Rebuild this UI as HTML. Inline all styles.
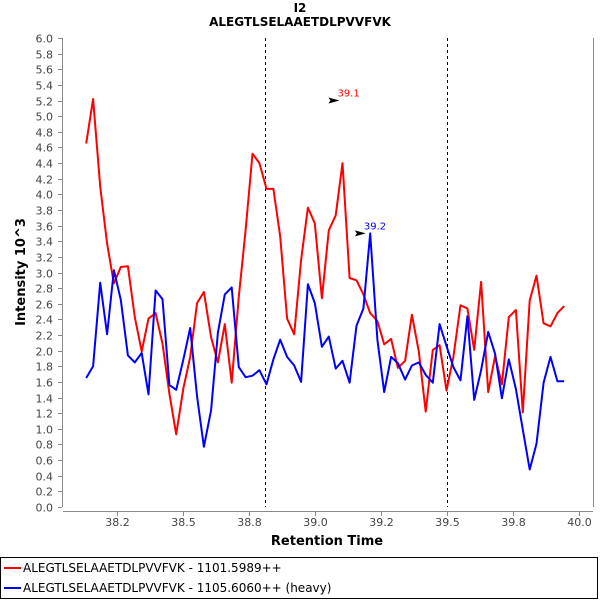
<!DOCTYPE html>
<html><head><meta charset="utf-8"><style>
body{margin:0;background:#fff;width:600px;height:600px;overflow:hidden;font-family:"Liberation Sans","DejaVu Sans",sans-serif}
svg text{font-family:"DejaVu Sans","Liberation Sans",sans-serif}
</style></head><body>
<svg id="chart" width="600" height="600" xmlns="http://www.w3.org/2000/svg">
<rect x="0" y="0" width="600" height="600" fill="#fff"/>
<text x="300" y="12" text-anchor="middle" font-size="12" font-weight="bold">I2</text>
<text x="300" y="26" text-anchor="middle" font-size="12" font-weight="bold">ALEGTLSELAAETDLPVVFVK</text>
<rect x="63" y="38" width="530" height="469" fill="#fff"/>
<g id="grid"></g>
<g id="axes"></g>
<g id="series"></g>
<text x="327" y="545" text-anchor="middle" font-size="13" font-weight="bold">Retention Time</text>
<text transform="translate(25,272) rotate(-90)" text-anchor="middle" font-size="13" font-weight="bold">Intensity 10^3</text>
<g>
<rect x="0.5" y="557.5" width="597" height="41" fill="#fff" stroke="#000"/>
<g><line x1="4" y1="568" x2="21" y2="568" stroke="#f00" stroke-width="2"/><text x="23" y="572" font-size="12">ALEGTLSELAAETDLPVVFVK - 1101.5989++</text></g>
<g><line x1="4" y1="588" x2="21" y2="588" stroke="#00f" stroke-width="2"/><text x="23" y="592" font-size="12">ALEGTLSELAAETDLPVVFVK - 1105.6060++ (heavy)</text></g>
</g>
</svg>
<script>
const rt=[38.133,38.159,38.186,38.212,38.238,38.264,38.291,38.317,38.343,38.369,38.396,38.422,38.448,38.474,38.501,38.527,38.553,38.579,38.606,38.632,38.658,38.684,38.711,38.737,38.763,38.789,38.816,38.842,38.868,38.894,38.921,38.947,38.973,38.999,39.026,39.052,39.078,39.104,39.131,39.157,39.183,39.209,39.236,39.262,39.288,39.314,39.341,39.367,39.393,39.419,39.446,39.472,39.498,39.524,39.551,39.577,39.603,39.629,39.656,39.682,39.708,39.734,39.761,39.787,39.813,39.839,39.866,39.892,39.918,39.944];
const lightVals=[4.65,5.22,4.10,3.37,2.86,3.07,3.08,2.43,1.99,2.41,2.48,2.09,1.45,0.93,1.52,1.92,2.61,2.75,2.17,1.85,2.34,1.59,2.69,3.54,4.52,4.40,4.07,4.07,3.46,2.41,2.21,3.16,3.83,3.63,2.67,3.54,3.73,4.40,2.93,2.90,2.72,2.48,2.38,2.08,2.15,1.78,1.87,2.46,1.99,1.22,2.01,2.07,1.49,1.92,2.58,2.54,2.01,2.88,1.47,1.93,1.57,2.43,2.52,1.21,2.64,2.96,2.35,2.31,2.48,2.57];
const heavyVals=[1.65,1.80,2.87,2.21,3.03,2.65,1.94,1.85,1.97,1.44,2.77,2.66,1.56,1.50,1.89,2.29,1.41,0.77,1.24,2.23,2.72,2.81,1.79,1.66,1.68,1.75,1.57,1.89,2.14,1.92,1.81,1.60,2.85,2.61,2.05,2.18,1.77,1.87,1.59,2.32,2.54,3.50,2.14,1.47,1.92,1.84,1.63,1.81,1.85,1.69,1.59,2.34,2.06,1.79,1.62,2.44,1.37,1.75,2.24,1.96,1.39,1.89,1.51,0.99,0.48,0.81,1.59,1.92,1.61,1.61];
const xTicks=[38.25,38.5,38.75,39.0,39.25,39.5,39.75,40.0];
const xTickLabels=["38.2","38.5","38.8","39.0","39.2","39.5","39.8","40.0"];
const yTicks=[0,0.2,0.4,0.6,0.8,1.0,1.2,1.4,1.6,1.8,2.0,2.2,2.4,2.6,2.8,3.0,3.2,3.4,3.6,3.8,4.0,4.2,4.4,4.6,4.8,5.0,5.2,5.4,5.6,5.8,6.0];
const boundaries=[38.81,39.5];
const peakRt=[39.1,39.2];
const peakVal=[5.2,3.5];
const peakLabels=["39.1","39.2"];
const peakColors=["#f00","#00f"];

const X0=63,X1=593,Y0=507,Y1=38,xmin=38.045,xmax=40.053,ymin=0,ymax=6;
function sx(v){return X0+(v-xmin)/(xmax-xmin)*(X1-X0);}
function sy(v){return Y0-(v-ymin)/(ymax-ymin)*(Y0-Y1);}
const NS="http://www.w3.org/2000/svg";
function mk(tag,attrs,parent){const e=document.createElementNS(NS,tag);for(const k in attrs)e.setAttribute(k,attrs[k]);parent.appendChild(e);return e;}
const axes=document.getElementById('axes'),grid=document.getElementById('grid'),series=document.getElementById('series');
// axis lines
let la=mk('line',{x1:62.5,y1:Y1,x2:62.5,y2:Y0,stroke:'#888'},axes);


let ba=mk('line',{x1:X0,y1:511.5,x2:X1,y2:511.5,stroke:'#888'},axes);


mk('line',{x1:593.5,y1:Y1,x2:593.5,y2:Y0,stroke:'#888'},axes);
yTicks.forEach(v=>{
  const y=Math.round(sy(v))+0.5;
  mk('line',{x1:58,y1:y,x2:62,y2:y,stroke:'#888'},axes);
  const t=mk('text',{x:53,y:y+4,'text-anchor':'end','font-size':'11',fill:'#444'},axes);
  t.textContent=v.toFixed(1);
  
  
});
xTicks.forEach((v,i)=>{
  const x=Math.round(sx(v))+0.5;
  mk('line',{x1:x,y1:512,x2:x,y2:516,stroke:'#888'},axes);
  const t=mk('text',{x:x,y:526,'text-anchor':'middle','font-size':'11',fill:'#444'},axes);
  t.textContent=xTickLabels[i];
  
  
});
boundaries.forEach(v=>{
  const x=Math.round(sx(v))+0.5;
  const l=mk('line',{x1:x,y1:Y1,x2:x,y2:Y0,stroke:'#000','stroke-dasharray':'3,3'},grid);
  
  
});
function drawLine(vals,color,name){
  const pts=rt.map((r,i)=>sx(r).toFixed(1)+','+sy(vals[i]).toFixed(1)).join(' ');
  const p=mk('polyline',{points:pts,fill:'none',stroke:color,'stroke-width':2,'stroke-linejoin':'round'},series);
  
  
}
drawLine(lightVals,'#f00','light-series-line');
drawLine(heavyVals,'#00f','heavy-series-line');
peakRt.forEach((r,i)=>{
  const x=sx(r)-2,y=sy(peakVal[i]);
  const a=mk('polygon',{points:`${x-11},${y-3} ${x},${y} ${x-11},${y+3} ${x-9},${y}`,fill:'#000'},series);
  
  
  const t=mk('text',{x:x-2,y:y-4,'font-size':'10',fill:peakColors[i]},series);
  t.textContent=peakLabels[i];
  
  
});
</script>
</body></html>
